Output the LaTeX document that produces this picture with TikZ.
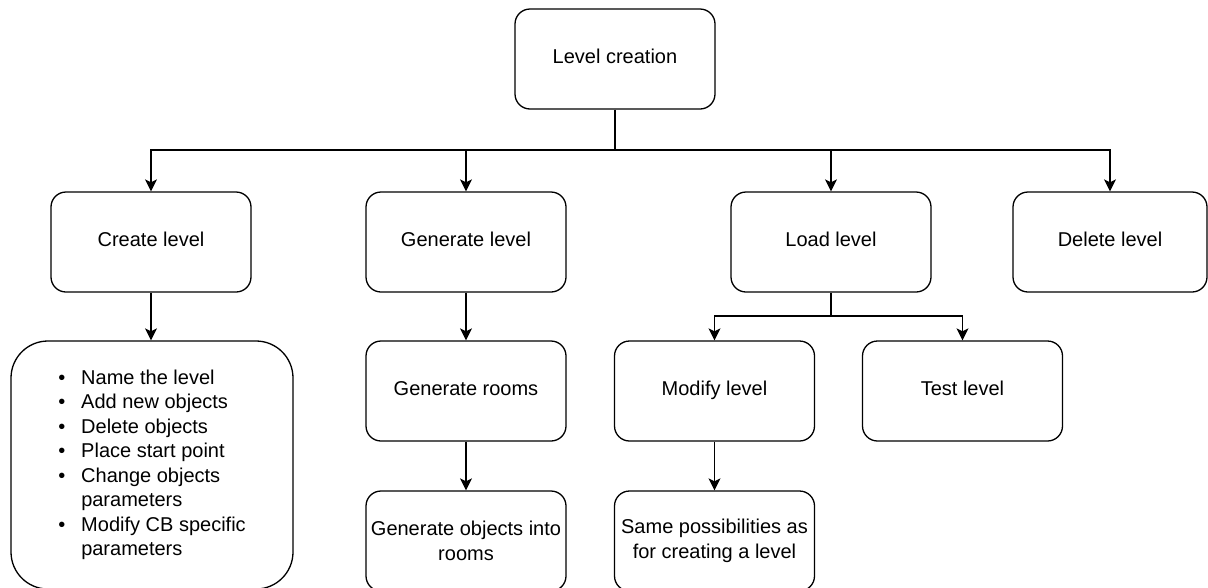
\documentclass[tikz,border=0pt]{standalone}
\usepackage{fontspec}
\setmainfont{Liberation Sans}
\usetikzlibrary{arrows.meta}
\begin{document}
\begin{tikzpicture}[x=1pt,y=-1pt,
  box/.style={draw, line width=1.3pt, rounded corners=15pt, minimum width=200pt,
    minimum height=100pt, inner sep=0pt, align=center,
    font=\fontsize{20}{24.5}\selectfont},
  one/.style={box, text height=15pt, text depth=6.4pt},
  arr/.style={draw, line width=1.3pt, -{Stealth[length=12pt,width=12pt,inset=3pt]}},
  link/.style={draw, line width=1.3pt}]
\useasboundingbox (0,0) rectangle (1208,587);
\clip (0,0) rectangle (1208,587);
\fill[white] (0,0) rectangle (1208,587);
% nodes
\node[one] (lc) at (615,59) {Level creation};
\node[one] (create) at (151,242) {Create level};
\node[one] (genlvl) at (466,242) {Generate level};
\node[one] (load) at (831,242) {Load level};
\node[one, minimum width=194pt] (delete) at (1110,242) {Delete level};
\node[box, minimum width=282pt, minimum height=248pt, rounded corners=37pt, align=left] (bullets) at (152,465)
  {\makebox[23pt][l]{\textbullet}Name the level\\
   \makebox[23pt][l]{\textbullet}Add new objects\\
   \makebox[23pt][l]{\textbullet}Delete objects\\
   \makebox[23pt][l]{\textbullet}Place start point\\
   \makebox[23pt][l]{\textbullet}Change objects\\
   \hspace*{23pt}parameters\\
   \makebox[23pt][l]{\textbullet}Modify CB specific\\
   \hspace*{23pt}parameters};
\node[one] (genrooms) at (466,391) {Generate rooms};
\node[one] (modify) at (714.5,391) {Modify level};
\node[one] (test) at (962.5,391) {Test level};
\node[box] (genobj) at (466,541) {Generate objects into\\rooms};
\node[box] (same) at (714.5,541) {Same possibilities as\\for creating a level};
% connectors
\coordinate (j1) at (615,150);
\path[link] (lc.south) -- (j1);
\path[arr] (j1) -| (create.north);
\path[arr] (j1) -| (genlvl.north);
\path[arr] (j1) -| (load.north);
\path[arr] (j1) -| (delete.north);
\path[arr] (create.south) -- (create.south |- bullets.north);
\path[arr] (genlvl.south) -- (genrooms.north);
\path[arr] (genrooms.south) -- (genobj.north);
\coordinate (j2) at (831,316);
\path[link] (load.south) -- (j2);
\path[arr] (j2) -| (modify.north);
\path[arr] (j2) -| (test.north);
\path[arr] (modify.south) -- (same.north);
\end{tikzpicture}
\end{document}
